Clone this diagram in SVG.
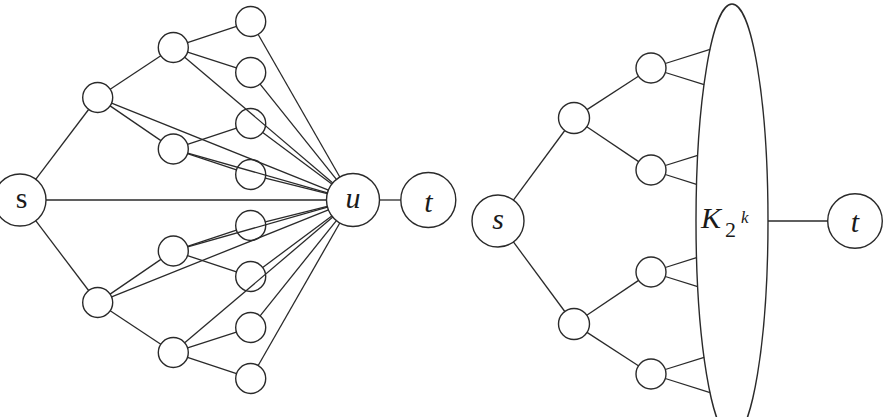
<svg xmlns="http://www.w3.org/2000/svg" width="890" height="417" viewBox="0 0 890 417">
<style>
.n{fill:none;stroke:#2a2a2a;stroke-width:1.4}
.e line{stroke:#2a2a2a;stroke-width:1.3}
.lb{font-family:"Liberation Serif","DejaVu Serif",serif;font-size:30px;fill:#1a1a1a;text-anchor:middle}
.it{font-style:italic}
.sub{font-size:22px;font-style:normal}
.sup{font-size:17px;font-style:italic}
</style>
<rect width="890" height="417" fill="#fff"/>
<g id="connectors" class="e">
<line x1="35.7" y1="179.3" x2="88.6" y2="109.5"/>
<line x1="35.7" y1="220.7" x2="88.6" y2="290.5"/>
<line x1="46" y1="200" x2="326.5" y2="200"/>
<line x1="110.2" y1="89.2" x2="160.8" y2="55.8"/>
<line x1="110.1" y1="105.9" x2="160.9" y2="140.6"/>
<line x1="111.6" y1="103.1" x2="328.4" y2="190.1"/>
<line x1="110.1" y1="294.1" x2="160.9" y2="259.4"/>
<line x1="110.2" y1="310.8" x2="160.8" y2="344.2"/>
<line x1="111.6" y1="296.9" x2="328.4" y2="209.9"/>
<line x1="187.5" y1="42.7" x2="236.5" y2="26.3"/>
<line x1="187.6" y1="52.1" x2="236.4" y2="67.9"/>
<line x1="184.7" y1="57.2" x2="332.8" y2="182.9"/>
<line x1="187.5" y1="144.3" x2="236.5" y2="128.2"/>
<line x1="187.5" y1="153.7" x2="236.5" y2="169.8"/>
<line x1="187.7" y1="153.1" x2="327.5" y2="192.8"/>
<line x1="187.5" y1="246.3" x2="236.5" y2="230.2"/>
<line x1="187.5" y1="255.7" x2="236.5" y2="271.8"/>
<line x1="187.7" y1="246.9" x2="327.5" y2="207.2"/>
<line x1="187.6" y1="347.9" x2="236.4" y2="332.1"/>
<line x1="187.5" y1="357.3" x2="236.5" y2="373.7"/>
<line x1="184.7" y1="342.8" x2="332.8" y2="217.1"/>
<line x1="258.2" y1="34.5" x2="339.8" y2="177"/>
<line x1="260.1" y1="84.2" x2="336.4" y2="179.3"/>
<line x1="262.7" y1="132.5" x2="331.8" y2="184.1"/>
<line x1="265.3" y1="178.1" x2="327.3" y2="193.6"/>
<line x1="265.3" y1="221.9" x2="327.3" y2="206.4"/>
<line x1="262.7" y1="267.5" x2="331.8" y2="215.9"/>
<line x1="260.1" y1="315.8" x2="336.4" y2="220.7"/>
<line x1="258.2" y1="365.5" x2="339.8" y2="223"/>
<line x1="379.5" y1="200" x2="400.8" y2="200"/>
<line x1="513.4" y1="200.1" x2="564.8" y2="130.5"/>
<line x1="513.4" y1="241.9" x2="564.8" y2="311.5"/>
<line x1="587" y1="109.6" x2="638.4" y2="76.2"/>
<line x1="586.8" y1="126.7" x2="638.6" y2="161.6"/>
<line x1="586.8" y1="315.3" x2="638.6" y2="280.4"/>
<line x1="587" y1="332.4" x2="638.4" y2="365.8"/>
<line x1="665.3" y1="63.5" x2="710.1" y2="49.4"/>
<line x1="665.3" y1="72.5" x2="704.1" y2="84.7"/>
<line x1="665.3" y1="165.5" x2="697.7" y2="155.3"/>
<line x1="665.3" y1="174.5" x2="696.5" y2="184.3"/>
<line x1="665.3" y1="267.5" x2="696.5" y2="257.7"/>
<line x1="665.3" y1="276.5" x2="697.7" y2="286.7"/>
<line x1="665.3" y1="369.5" x2="704.1" y2="357.3"/>
<line x1="665.3" y1="378.5" x2="710.1" y2="392.6"/>
<line x1="768" y1="221" x2="828" y2="221"/>
</g>
<g id="s1"><circle class="n" cx="20" cy="200" r="26"/><text class="lb" x="21.5" y="207.5">s</text></g>
<g id="a1"><circle class="n" cx="97.7" cy="97.5" r="15"/></g>
<g id="a2"><circle class="n" cx="97.7" cy="302.5" r="15"/></g>
<g id="b1"><circle class="n" cx="173.3" cy="47.5" r="15"/></g>
<g id="b2"><circle class="n" cx="173.3" cy="149" r="15"/></g>
<g id="b3"><circle class="n" cx="173.3" cy="251" r="15"/></g>
<g id="b4"><circle class="n" cx="173.3" cy="352.5" r="15"/></g>
<g id="c1"><circle class="n" cx="250.7" cy="21.5" r="15"/></g>
<g id="c2"><circle class="n" cx="250.7" cy="72.5" r="15"/></g>
<g id="c3"><circle class="n" cx="250.7" cy="123.5" r="15"/></g>
<g id="c4"><circle class="n" cx="250.7" cy="174.5" r="15"/></g>
<g id="c5"><circle class="n" cx="250.7" cy="225.5" r="15"/></g>
<g id="c6"><circle class="n" cx="250.7" cy="276.5" r="15"/></g>
<g id="c7"><circle class="n" cx="250.7" cy="327.5" r="15"/></g>
<g id="c8"><circle class="n" cx="250.7" cy="378.5" r="15"/></g>
<g id="u"><circle class="n" cx="353" cy="200" r="26.5"/><text class="lb it" x="353" y="207.5">u</text></g>
<g id="t1"><circle class="n" cx="428.3" cy="200" r="27.5"/><text class="lb it" x="428.3" y="211.5">t</text></g>
<g id="s2"><circle class="n" cx="498" cy="221" r="26"/><text class="lb it" x="498" y="228.5">s</text></g>
<g id="r1"><circle class="n" cx="574" cy="118" r="15.5"/></g>
<g id="r2"><circle class="n" cx="574" cy="324" r="15.5"/></g>
<g id="q1"><circle class="n" cx="651" cy="68" r="15"/></g>
<g id="q2"><circle class="n" cx="651" cy="170" r="15"/></g>
<g id="q3"><circle class="n" cx="651" cy="272" r="15"/></g>
<g id="q4"><circle class="n" cx="651" cy="374" r="15"/></g>
<g id="k"><ellipse class="n" cx="732" cy="221" rx="36" ry="217"/><text class="lb it" x="701" y="228" style="text-anchor:start">K<tspan class="sub" x="725" y="237">2</tspan><tspan class="sup" x="741" y="223">k</tspan></text></g>
<g id="t2"><circle class="n" cx="855" cy="221" r="27.3"/><text class="lb it" x="855" y="231.5">t</text></g>
</svg>
